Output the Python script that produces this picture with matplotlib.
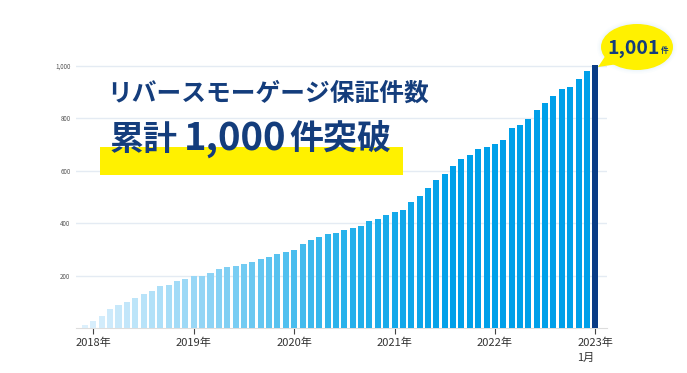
import numpy as np
import matplotlib
matplotlib.use("Agg")
import matplotlib.pyplot as plt
import matplotlib.colors as colors
from matplotlib.patches import Rectangle, Ellipse, Polygon

plt.rcParams['font.family'] = ['Noto Sans CJK JP', 'DejaVu Sans']

# monthly cumulative guarantees, Dec 2017 .. Jan 2023
counts = [10, 26, 46, 74, 89, 100, 114, 128, 140, 161, 165, 179, 188,
          199, 200, 211, 224, 231, 237, 243, 250, 264, 270, 283, 289,
          296, 320, 334, 348, 358, 363, 373, 381, 387, 409, 415, 432,
          441, 450, 479, 503, 532, 563, 589, 617, 645, 660, 683, 689,
          703, 717, 762, 775, 796, 832, 856, 884, 913, 918, 949, 981, 1001]
year_pos = [1, 13, 25, 37, 49, 61]
year_labels = ["2018年", "2019年", "2020年", "2021年", "2022年", "2023年\n1月"]
y_ticks = [200, 400, 600, 800, 1000]
y_labels = ["200", "400", "600", "800", "1,000"]
title1 = "リバースモーゲージ保証件数"
# headline pieces: (text, left px, size)
title2_parts = [("累計", 110, 24.5), ("1,000", 184, 27.5), ("件突破", 289, 24.5)]
badge_num = "1,001"
badge_unit = "件"

NAVY = "#143d7c"
W, H = 687, 373

def fx(x):
    return x / W

def fy(y):
    return 1 - y / H

fig = plt.figure(figsize=(6.87, 3.73), dpi=100)
ax = fig.add_axes([fx(76), fy(328), fx(607) - fx(76), fy(60) - fy(328)])

n = len(counts)
cmap = colors.LinearSegmentedColormap.from_list("bl", ["#dcf0fc", "#8fd4f5", "#2db4eb", "#00a0e9"])
norm = colors.Normalize(vmin=0, vmax=44, clip=True)
bar_colors = [cmap(norm(i)) for i in range(n)]
bar_colors[-1] = "#0a3c86"
ax.bar(range(n), counts, width=0.72, color=bar_colors, zorder=3)

ax.set_xlim(-1.08, 62.4)
ax.set_ylim(0, 1021.7)
ax.set_yticks(y_ticks)
ax.set_yticklabels(y_labels, fontsize=4.5, color="#555555")
ax.set_xticks(year_pos)
ax.set_xticklabels(year_labels, fontsize=8, color="#333333", multialignment="left", linespacing=1.6)
ax.tick_params(axis='y', length=0, pad=4)
ax.tick_params(axis='x', length=4, width=0.8, color="#444444", pad=3)
ax.grid(axis='y', color="#e4ebf3", linewidth=1, zorder=0)
for s in ["top", "right", "left"]:
    ax.spines[s].set_visible(False)
ax.spines["bottom"].set_color("#dddddd")
ax.spines["bottom"].set_linewidth(0.8)

# yellow highlight behind headline
fig.add_artist(Rectangle((fx(100), fy(175)), fx(403) - fx(100), fy(147) - fy(175),
                         transform=fig.transFigure, facecolor="#fff100", edgecolor="none", zorder=5))
fig.text(fx(107), fy(94), title1, fontsize=17.8, fontweight="bold", color=NAVY,
         va="center", ha="left", zorder=6)
for txt, left, size in title2_parts:
    fig.text(fx(left), fy(150), txt, fontsize=size, fontweight="bold", color=NAVY,
             va="baseline", ha="left", zorder=6)

# speech bubble
for k, a in [(8, 0.06), (5, 0.08), (2.5, 0.12)]:
    fig.add_artist(Ellipse((fx(637), fy(47)), fx(72 + k), (46 + k) / H, transform=fig.transFigure,
                           facecolor="#bfe3f5", edgecolor="none", alpha=a, zorder=6))
fig.add_artist(Polygon([(fx(606), fy(55)), (fx(618), fy(64)), (fx(598), fy(67))],
                       transform=fig.transFigure, facecolor="#fff100", edgecolor="none", zorder=7))
fig.add_artist(Ellipse((fx(637), fy(47)), fx(72), 46 / H, transform=fig.transFigure,
                       facecolor="#fff100", edgecolor="none", zorder=7))
fig.text(fx(660), fy(48), badge_num, fontsize=14, fontweight="bold", color=NAVY,
         va="center", ha="right", zorder=8)
fig.text(fx(661), fy(51), badge_unit, fontsize=5.5, fontweight="bold", color=NAVY,
         va="center", ha="left", zorder=8)

fig.savefig("out.png", dpi=100, facecolor="white")
